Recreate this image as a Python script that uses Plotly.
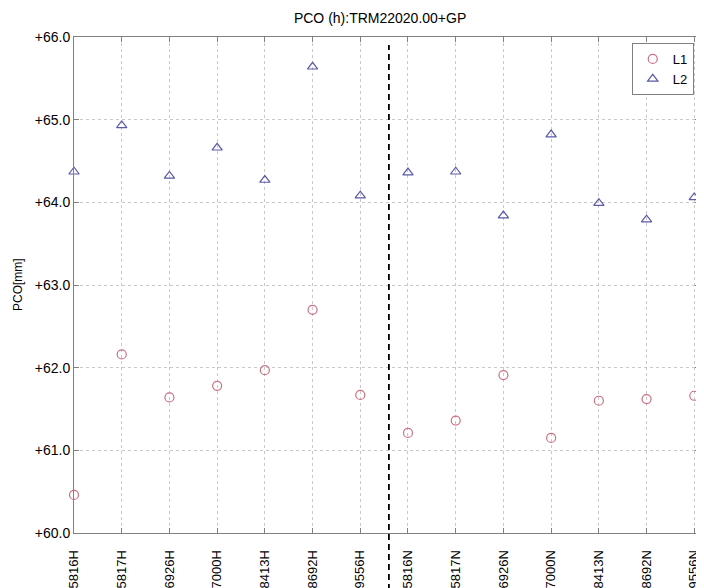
import plotly.graph_objects as go

categories = ["5816H", "5817H", "6926H", "7000H", "8413H", "8692H", "9556H",
              "5816N", "5817N", "6926N", "7000N", "8413N", "8692N", "9556N"]
l1_values = [60.46, 62.16, 61.64, 61.78, 61.97, 62.70, 61.67,
             61.21, 61.36, 61.91, 61.15, 61.60, 61.62, 61.66]
l2_values = [64.37, 64.93, 64.32, 64.66, 64.27, 65.64, 64.08,
             64.36, 64.37, 63.84, 64.82, 63.99, 63.79, 64.06]
y_ticks = [60, 61, 62, 63, 64, 65, 66]
y_tick_labels = ["+60.0", "+61.0", "+62.0", "+63.0", "+64.0", "+65.0", "+66.0"]
separator_pos = 6.6

FONT = "Liberation Sans, Arial, sans-serif"

# The page body has an 8px margin, so the figure is 8px smaller and shifted accordingly.
W, H = 696, 580
ML, MR, MT, MB = 66, 4, 29, 55
plot_w = W - ML - MR

fig = go.Figure()
fig.add_trace(go.Scatter(
    x=categories, y=l1_values, mode="markers", name="L1",
    marker=dict(symbol="circle-open", size=9, color="#cc7080", line=dict(width=1.2)),
    cliponaxis=False))
fig.add_trace(go.Scatter(
    x=categories, y=l2_values, mode="markers", name="L2",
    marker=dict(symbol="triangle-up-open", size=9, color="#5a5aa8", line=dict(width=1.2)),
    cliponaxis=False))

fig.add_shape(type="line", xref="x", yref="paper",
              x0=separator_pos, x1=separator_pos, y0=-0.115, y1=0.984,
              line=dict(color="black", width=1.8, dash="6px,4px"))

axis_common = dict(showline=True, linecolor="#808080", linewidth=1, mirror="ticks",
                   ticks="inside", ticklen=5, tickcolor="#808080",
                   showgrid=True, gridcolor="#c8c8c8", griddash="dot", gridwidth=1,
                   zeroline=False, automargin=False)

fig.update_xaxes(type="category", range=[0, 13.12], tickangle=-90, ticklabelstandoff=11,
                 categoryorder="array", categoryarray=categories,
                 tickfont=dict(family=FONT, size=13, color="black"), **axis_common)
fig.update_yaxes(range=[60, 66], tickmode="array", tickvals=y_ticks, ticktext=y_tick_labels,
                 tickfont=dict(family=FONT, size=14, color="black"), **axis_common)

fig.add_annotation(text="PCO[mm]", xref="paper", yref="paper",
                   x=(10 - ML) / plot_w, xanchor="center", y=0.5, yanchor="middle",
                   textangle=-90, showarrow=False,
                   font=dict(family=FONT, size=12, color="black"))

fig.update_layout(
    width=W, height=H,
    margin=dict(l=ML, r=MR, t=MT, b=MB),
    paper_bgcolor="white", plot_bgcolor="white",
    title=dict(text="PCO (h):TRM22020.00+GP", x=0.489, xref="paper", xanchor="center",
               y=1 - 10 / H, yref="container", yanchor="middle",
               font=dict(family=FONT, size=14, color="black")),
    font=dict(family=FONT, size=12, color="black"),
    legend=dict(x=0.99, xanchor="right", y=0.988, yanchor="top",
                bordercolor="#808080", borderwidth=1, bgcolor="white",
                font=dict(family=FONT, size=13), itemwidth=30, tracegroupgap=0),
    showlegend=True,
)

fig.write_html("out.html")
